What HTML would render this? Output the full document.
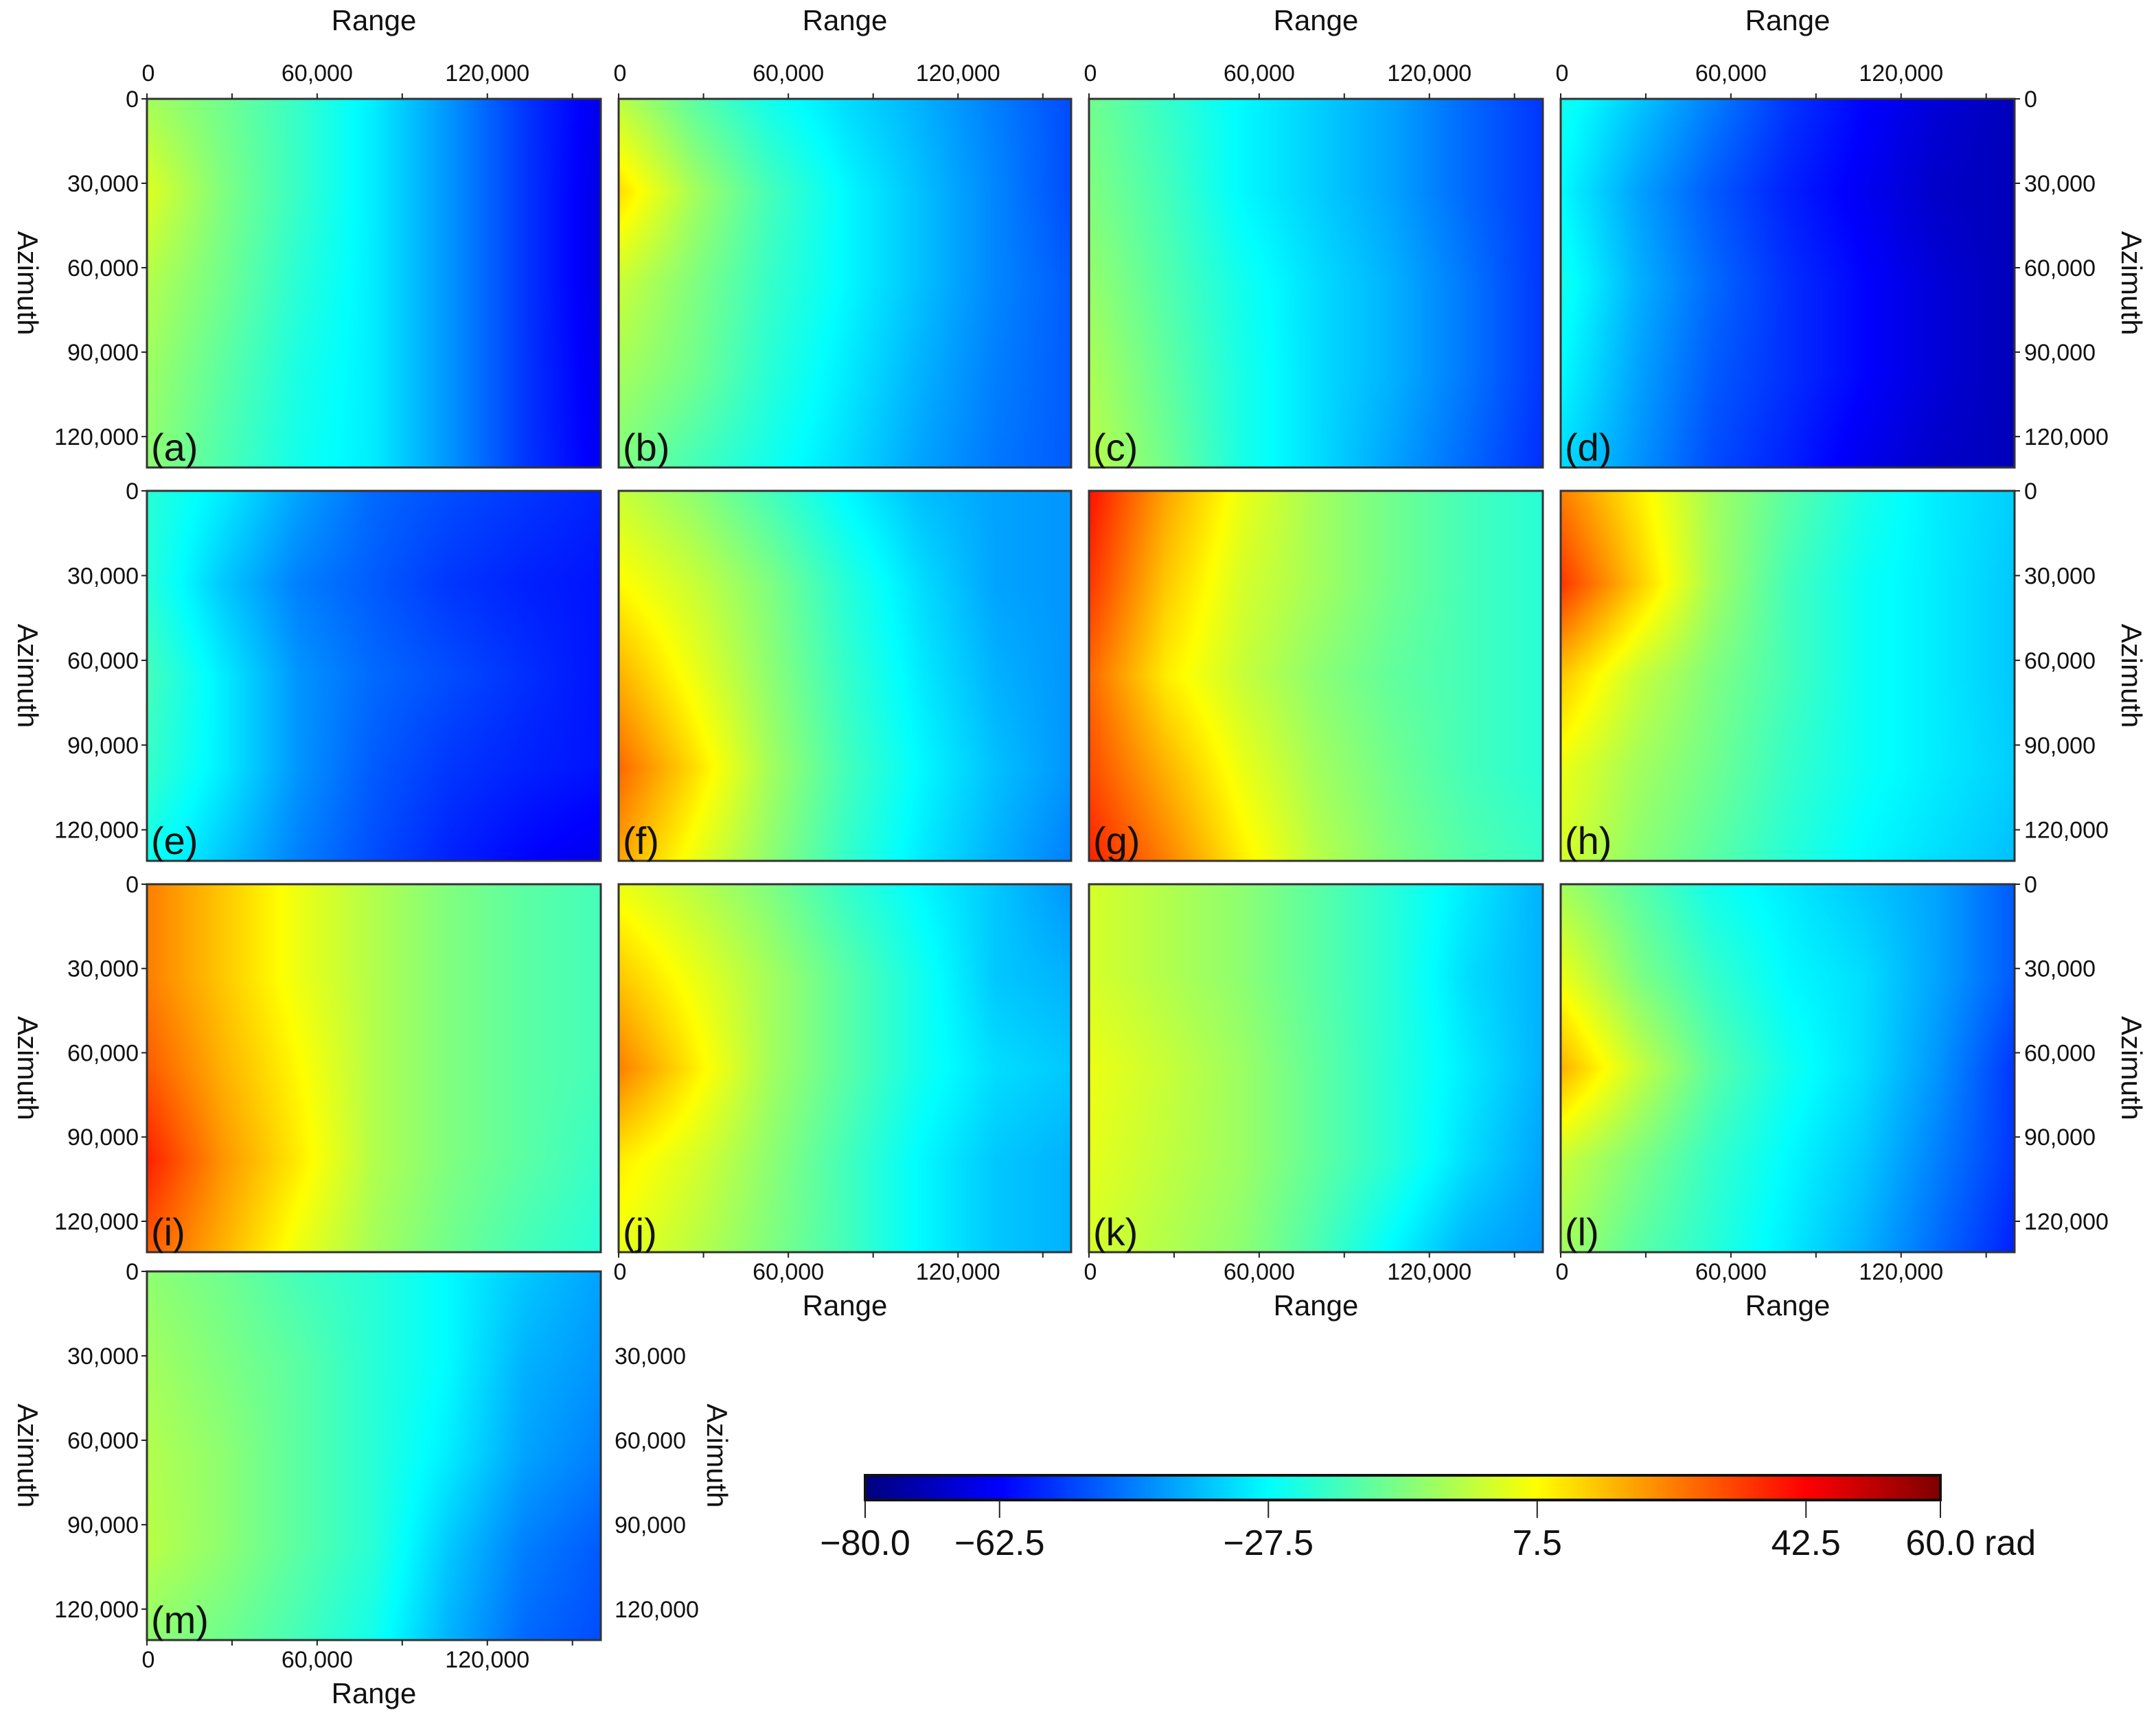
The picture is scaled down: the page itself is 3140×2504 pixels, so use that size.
<!DOCTYPE html>
<html><head><meta charset="utf-8"><style>
html,body{margin:0;padding:0;background:#fff;}
#root{position:relative;width:3140px;height:2504px;overflow:hidden;font-family:"Liberation Sans",sans-serif;}
canvas{position:absolute;image-rendering:auto;}
svg{position:absolute;left:0;top:0;}
</style></head><body>
<div id="root">
<svg id="ax" width="3140" height="2504"></svg>
</div>
<script>
const panelLabels=["a","b","c","d","e","f","g","h","i","j","k","l","m"];
const rangeTicks=[0,60000,120000];
const rangeMinorTicks=[30000,90000,150000];
const azTicks=[0,30000,60000,90000,120000];
const cbTicks=[-80,-62.5,-27.5,7.5,42.5,60];
const cbTickLabels=["\u221280.0","\u221262.5","\u221227.5","7.5","42.5","60.0"];
const vMin=-80, vMax=60;
const gridA=[[-5,-12,-20,-30,-42,-55,-65],[3,-10,-20,-30,-42,-55,-66],[-3,-12,-22,-30,-42,-55,-66],[-6,-15,-24,-30,-42,-55,-65],[-8,-17,-25,-30,-42,-55,-64]];
const gridB=[[-2,-15,-25,-32,-38,-45,-52],[12,-5,-18,-28,-36,-44,-52],[0,-10,-20,-28,-36,-44,-50],[-5,-12,-22,-30,-38,-45,-50],[-10,-18,-25,-32,-40,-46,-50]];
const gridC=[[-12,-20,-28,-34,-40,-48,-55],[-10,-18,-28,-34,-40,-48,-55],[-7,-16,-25,-32,-38,-46,-55],[-4,-14,-24,-32,-38,-46,-55],[-2,-12,-24,-32,-40,-48,-56]];
const gridD=[[-25,-35,-45,-55,-62,-68,-72],[-28,-40,-50,-58,-64,-70,-72],[-25,-38,-48,-56,-62,-68,-72],[-28,-40,-50,-56,-62,-68,-72],[-32,-42,-52,-58,-65,-70,-72]];
const gridE=[[-22,-30,-40,-48,-52,-55,-58],[-22,-35,-45,-50,-55,-58,-60],[-18,-30,-42,-48,-52,-56,-60],[-20,-30,-42,-50,-55,-58,-60],[-25,-35,-45,-52,-58,-62,-65]];
const gridF=[[0,-8,-18,-28,-36,-40,-42],[8,0,-10,-22,-32,-40,-42],[18,5,-8,-20,-30,-38,-42],[28,12,-5,-18,-28,-36,-42],[20,5,-8,-20,-30,-38,-45]];
const gridG=[[40,20,5,-5,-12,-18,-22],[35,15,2,-5,-12,-18,-22],[28,10,0,-8,-14,-18,-22],[32,18,5,-5,-12,-18,-22],[38,25,10,-2,-10,-16,-20]];
const gridH=[[25,10,-5,-15,-24,-30,-34],[35,15,-5,-18,-26,-30,-35],[15,0,-10,-18,-26,-30,-35],[5,-5,-12,-20,-26,-30,-34],[2,-8,-15,-22,-28,-32,-36]];
const gridI=[[25,15,5,-3,-10,-15,-18],[25,15,5,-3,-10,-15,-18],[30,18,8,-3,-10,-15,-18],[38,22,10,-3,-10,-15,-20],[30,18,5,-5,-12,-18,-22]];
const gridJ=[[5,-2,-10,-20,-28,-35,-42],[15,5,-5,-15,-25,-35,-38],[25,10,-5,-15,-25,-32,-35],[10,2,-8,-18,-28,-35,-38],[5,-2,-10,-18,-28,-35,-38]];
const gridK=[[2,-3,-8,-15,-22,-30,-38],[2,-3,-8,-15,-22,-32,-38],[5,0,-6,-14,-22,-30,-38],[4,-1,-6,-14,-22,-32,-40],[2,-3,-8,-17,-28,-38,-42]];
const gridL=[[-5,-15,-25,-30,-35,-40,-50],[5,-10,-20,-28,-32,-40,-50],[18,0,-15,-25,-32,-42,-55],[0,-10,-20,-28,-35,-45,-55],[-5,-15,-22,-30,-38,-48,-58]];
const gridM=[[-8,-12,-18,-22,-28,-35,-40],[-5,-10,-15,-22,-28,-38,-42],[-3,-8,-15,-22,-30,-40,-45],[-2,-8,-15,-22,-35,-45,-50],[-8,-12,-18,-25,-38,-48,-52]];
const grids=[gridA,gridB,gridC,gridD,gridE,gridF,gridG,gridH,gridI,gridJ,gridK,gridL,gridM];

const colX=[[214,875],[901,1560],[1586,2247],[2273,2934]];
const rowY=[[144,681],[715,1254],[1288,1824],[1852,2389]];
const rangeMax=160000, azMax=131000;
function jet(t){
  t=Math.max(0,Math.min(1,t));
  const f=(x)=>Math.max(0,Math.min(1,x));
  const r=f(Math.min(4*t-1.5,-4*t+4.5));
  const g=f(Math.min(4*t-0.5,-4*t+3.5));
  const b=f(Math.min(4*t+0.5,-4*t+2.5));
  return [r*255,g*255,b*255];
}
const NS="http://www.w3.org/2000/svg";
const svg=document.getElementById('ax');
const root=document.getElementById('root');
function txt(x,y,s,size,anchor,name,rot){
  const t=document.createElementNS(NS,'text');
  t.setAttribute('x',x);t.setAttribute('y',y);
  t.setAttribute('font-size',size);t.setAttribute('text-anchor',anchor||'middle');
  t.setAttribute('font-family','Liberation Sans, sans-serif');t.setAttribute('fill','#111');
  if(rot)t.setAttribute('transform','rotate('+rot+' '+x+' '+y+')');
  t.textContent=s;
  
  
  svg.appendChild(t);return t;
}
function line(x1,y1,x2,y2,w,name){
  const l=document.createElementNS(NS,'line');
  l.setAttribute('x1',x1);l.setAttribute('y1',y1);l.setAttribute('x2',x2);l.setAttribute('y2',y2);
  l.setAttribute('stroke','#222');l.setAttribute('stroke-width',w||2);
  
  
  svg.appendChild(l);
}
function fmt(v){return v.toLocaleString('en-US');}
grids.forEach((g,i)=>{
  const c=i%4, r=Math.floor(i/4);
  const x0=colX[c][0],x1=colX[c][1],y0=rowY[r][0],y1=rowY[r][1];
  const W=x1-x0,H=y1-y0;
  const cw=Math.round(W/3),ch=Math.round(H/3);
  const cv=document.createElement('canvas');
  cv.width=cw;cv.height=ch;
  cv.style.left=x0+'px';cv.style.top=y0+'px';cv.style.width=W+'px';cv.style.height=H+'px';
  
  
  root.insertBefore(cv,svg);
  const ctx=cv.getContext('2d');const img=ctx.createImageData(cw,ch);
  const nr=g.length,nc=g[0].length;
  for(let py=0;py<ch;py++){
    const fy=py/(ch-1)*(nr-1);const iy=Math.min(nr-2,Math.floor(fy));const ty=fy-iy;
    for(let px=0;px<cw;px++){
      const fx=px/(cw-1)*(nc-1);const ix=Math.min(nc-2,Math.floor(fx));const tx=fx-ix;
      const v=(g[iy][ix]*(1-tx)+g[iy][ix+1]*tx)*(1-ty)+(g[iy+1][ix]*(1-tx)+g[iy+1][ix+1]*tx)*ty;
      const col=jet((v-vMin)/(vMax-vMin));
      const k=(py*cw+px)*4;img.data[k]=col[0];img.data[k+1]=col[1];img.data[k+2]=col[2];img.data[k+3]=255;
    }
  }
  ctx.putImageData(img,0,0);
  const rect=document.createElementNS(NS,'rect');
  rect.setAttribute('x',x0);rect.setAttribute('y',y0);rect.setAttribute('width',W);rect.setAttribute('height',H);
  rect.setAttribute('fill','none');rect.setAttribute('stroke','#333');rect.setAttribute('stroke-width',3);
  
  
  svg.appendChild(rect);
  txt(x0+6,y1-10,'('+panelLabels[i]+')',56,'start','panel-label-'+panelLabels[i]);
  const xs=v=>x0+v/rangeMax*W, ys=v=>y0+v/azMax*H;
  if(r===0){
    rangeTicks.forEach(v=>{line(xs(v),y0,xs(v),y0-8,2,'range-tick');txt(xs(v)+(v===0?2:0),y0-26,fmt(v),34,'middle','range-tick-label');});
    rangeMinorTicks.forEach(v=>line(xs(v),y0,xs(v),y0-8,2,'range-minor-tick'));
    txt((x0+x1)/2,44,'Range',42,'middle','range-axis-title');
  }
  if((r===2&&c>0)||i===12){
    rangeTicks.forEach(v=>{line(xs(v),y1,xs(v),y1+8,2,'range-tick');txt(xs(v)+(v===0?2:0),y1+40,fmt(v),34,'middle','range-tick-label');});
    rangeMinorTicks.forEach(v=>line(xs(v),y1,xs(v),y1+8,2,'range-minor-tick'));
    txt((x0+x1)/2,y1+92,'Range',42,'middle','range-axis-title');
  }
  if(c===0){
    azTicks.forEach(v=>{line(x0,ys(v),x0-8,ys(v),2,'azimuth-tick');txt(x0-12,ys(v)+12,fmt(v),34,'end','azimuth-tick-label');});
    txt(26,(y0+y1)/2,'Azimuth',42,'middle','azimuth-axis-title',90);
  }
  if(c===3){
    azTicks.forEach(v=>{line(x1,ys(v),x1+8,ys(v),2,'azimuth-tick');txt(x1+14,ys(v)+12,fmt(v),34,'start','azimuth-tick-label');});
    txt(3090,(y0+y1)/2,'Azimuth',42,'middle','azimuth-axis-title',90);
  }
  if(i===12){
    azTicks.slice(1).forEach(v=>{txt(x1+20,ys(v)+12,fmt(v),34,'start','azimuth-tick-label');});
    txt(1030,(y0+y1)/2,'Azimuth',42,'middle','azimuth-axis-title',90);
  }
});
const cbX0=1260,cbX1=2826,cbY0=2149,cbY1=2185;
const cb=document.createElement('canvas');cb.width=700;cb.height=4;
cb.style.left=cbX0+'px';cb.style.top=cbY0+'px';cb.style.width=(cbX1-cbX0)+'px';cb.style.height=(cbY1-cbY0)+'px';


root.insertBefore(cb,svg);
const cctx=cb.getContext('2d');
for(let x=0;x<700;x++){const col=jet(x/699);cctx.fillStyle='rgb('+col.map(Math.round).join(',')+')';cctx.fillRect(x,0,1,4);}
const cr=document.createElementNS(NS,'rect');
cr.setAttribute('x',cbX0);cr.setAttribute('y',cbY0);cr.setAttribute('width',cbX1-cbX0);cr.setAttribute('height',cbY1-cbY0);
cr.setAttribute('fill','none');cr.setAttribute('stroke','#111');cr.setAttribute('stroke-width',4);


svg.appendChild(cr);
const cbs=v=>cbX0+(v-vMin)/(vMax-vMin)*(cbX1-cbX0);
cbTicks.forEach((v,k)=>{line(cbs(v),cbY1,cbs(v),cbY1+26,2,'colorbar-tick');txt(cbs(v),2265,cbTickLabels[k],52,'middle','colorbar-tick-label');});
txt(2890,2265,'rad',52,'start','colorbar-unit');
</script>
</body></html>
